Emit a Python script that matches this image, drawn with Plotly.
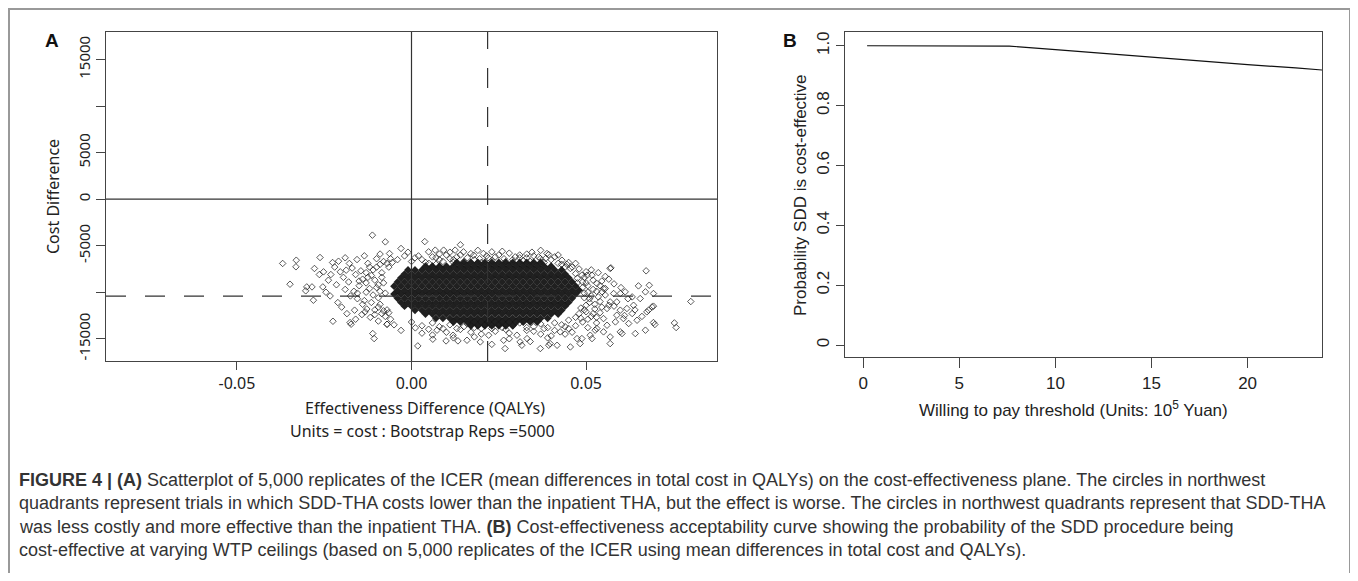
import plotly.graph_objects as go

PAGE_W, PAGE_H = 1358, 581
OFF = 8                      # default body margin of the html page
W, H = PAGE_W - 2 * OFF, PAGE_H - 2 * OFF

# ---------------- Panel A data: bootstrap replicates (effect diff in QALYs, cost diff) ----------------
# sparse replicates
left_pts = [
    (-0.0369, -6910), (-0.0330, -6560), (-0.0331, -7270), (-0.0348, -9140), (-0.0262, -6270), (-0.0112, -3870),
    (-0.0278, -7450), (-0.0252, -7810), (-0.0264, -8100), (-0.0226, -6810), (-0.0209, -6670), (-0.0178, -6910),
    (-0.0156, -6490), (-0.0135, -6090), (-0.0187, -7630), (-0.0204, -7810), (-0.0231, -8100), (-0.0238, -8710),
    (-0.0254, -9430), (-0.0300, -9430), (-0.0285, -9430), (-0.0303, -9850), (-0.0281, -10860), (-0.0233, -10400),
    (-0.0211, -11110), (-0.0225, -13120), (-0.0176, -13260), (-0.0173, -13440), (-0.0163, -11930), (-0.0142, -12400),
    (-0.0133, -12110), (-0.0111, -14440), (-0.0107, -14980), (-0.0075, -4590), (-0.0063, -5840),
    (-0.0195, -8400), (-0.0180, -8900), (-0.0170, -7400), (-0.0160, -8100), (-0.0150, -9300), (-0.0165, -9900),
    (-0.0190, -9700), (-0.0175, -10400), (-0.0155, -10700), (-0.0145, -7700), (-0.0140, -8600), (-0.0130, -10000),
    (-0.0140, -11300), (-0.0125, -6900), (-0.0120, -7300), (-0.0128, -11800), (-0.0118, -12700), (-0.0200, -11600),
    (-0.0185, -12300), (-0.0160, -12900), (-0.0215, -9200), (-0.0220, -7300), (-0.0245, -10000), (-0.0190, -6300),
    (-0.0100, -6400), (-0.0090, -5900), (-0.0080, -6700), (-0.0085, -12300), (-0.0060, -12900), (-0.0095, -13100),
    (-0.0050, -13500), (-0.0070, -13440), (-0.0105, -11900), (-0.0130, -9000), (-0.0115, -8200),
    (-0.0110, -7600), (-0.0100, -9500), (-0.0095, -10600), (-0.0105, -8700), (-0.0090, -11300), (-0.0085, -7900),
    (-0.0080, -9000), (-0.0075, -10100), (-0.0070, -11900), (-0.0065, -7300),
    (-0.0090, -7000), (-0.0085, -8400), (-0.0095, -9200), (-0.0090, -9900), (-0.0095, -11600), (-0.0080, -12000),
    (-0.0110, -10300), (-0.0120, -9600), (-0.0125, -8400), (-0.0130, -7900), (-0.0150, -8800), (-0.0155, -10100),
    (-0.0135, -10900), (-0.0115, -11100), (-0.0105, -12400), (-0.0075, -12600), (-0.0065, -12200), (-0.0100, -7300),
    (-0.0070, -6900), (-0.0060, -6400),
]
top_pts = [
    (0.0038, -4560), (0.0140, -4900), (0.0125, -5480), (0.0049, -5660), (0.0068, -5480), (0.0092, -5480),
    (0.0178, -6020), (0.0149, -5660), (0.0230, -5660), (0.0297, -6200), (0.0369, -6380), (0.0393, -5950),
    (0.0384, -6380), (0.0431, -6560), (0.0206, -5840), (0.0170, -5850), (0.0388, -5840), (0.0364, -6200),
    (0.0020, -6100), (0.0060, -6200), (0.0100, -6000), (0.0110, -6400), (0.0080, -6500), (0.0030, -6500),
    (-0.0020, -6100), (0.0130, -6200), (0.0160, -6300), (0.0195, -6400), (0.0215, -6100), (0.0250, -6000),
    (0.0265, -6400), (0.0280, -5800), (0.0310, -6000), (0.0330, -6300), (0.0345, -5700), (0.0410, -6200),
    (0.0420, -6900), (-0.0055, -6800), (0.0000, -6700), (0.0050, -6900), (-0.0030, -5300), (0.0220, -6300),
    (-0.0010, -5700), (0.0070, -7000), (0.0440, -7300), (0.0120, -6800), (0.0320, -6600),
    (-0.0040, -6500), (0.0010, -6300), (0.0040, -6800), (0.0070, -6300), (0.0090, -6700), (0.0120, -6500),
    (0.0140, -6000), (0.0150, -6700), (0.0180, -6500), (0.0200, -6800), (0.0230, -6600), (0.0240, -6200),
    (0.0270, -6700), (0.0290, -6500), (0.0310, -6300), (0.0340, -6700), (0.0350, -6100), (0.0380, -6800),
    (0.0400, -6500), (0.0420, -6000), (0.0430, -7000), (0.0450, -6800), (0.0460, -7300), (0.0260, -5600),
    (0.0190, -5500), (0.0330, -5900), (0.0110, -5700), (0.0080, -5900), (0.0370, -5500),
]
right_pts = [
    (0.0455, -7450), (0.0488, -8170), (0.0503, -8170), (0.0517, -8170), (0.0569, -7450), (0.0531, -9060),
    (0.0550, -9600), (0.0571, -7380), (0.0672, -7700), (0.0650, -9320), (0.0681, -9250), (0.0670, -9960),
    (0.0693, -10140), (0.0800, -11000), (0.0753, -13300), (0.0758, -13790), (0.0693, -13260), (0.0670, -14080),
    (0.0689, -11580), (0.0679, -11930), (0.0693, -11500), (0.0674, -12110), (0.0697, -13470), (0.0641, -14440),
    (0.0622, -13360), (0.0598, -14260), (0.0603, -14440), (0.0569, -14800), (0.0569, -15520), (0.0646, -13010),
    (0.0632, -12290), (0.0617, -11750), (0.0598, -11930), (0.0588, -12470), (0.0607, -12830), (0.0584, -13190),
    (0.0560, -13550), (0.0550, -12830), (0.0560, -11750), (0.0546, -9960), (0.0555, -9600), (0.0579, -10140),
    (0.0598, -10140), (0.0612, -9960), (0.0636, -11400), (0.0655, -10680), (0.0632, -10500), (0.0588, -11040),
    (0.0569, -11040), (0.0520, -8700), (0.0535, -10500), (0.0525, -11300), (0.0540, -12200), (0.0515, -12600),
    (0.0530, -13300), (0.0505, -13800), (0.0490, -13200), (0.0520, -9700), (0.0500, -9000), (0.0545, -8800),
    (0.0565, -8600), (0.0580, -9100), (0.0600, -9500), (0.0620, -10700), (0.0640, -11900), (0.0660, -12600),
    (0.0580, -11500), (0.0610, -12500), (0.0480, -7500), (0.0500, -7800), (0.0470, -6900), (0.0445, -7000),
    (0.0475, -9000), (0.0490, -9500), (0.0505, -10000), (0.0495, -10600), (0.0510, -11100), (0.0485, -11700),
    (0.0500, -12100), (0.0470, -12700), (0.0480, -12300), (0.0515, -10400), (0.0530, -9900), (0.0540, -11000),
    (0.0525, -11800), (0.0505, -12900), (0.0495, -8400), (0.0470, -8000),
    (0.0475, -8500), (0.0490, -8900), (0.0505, -9300), (0.0495, -10100), (0.0510, -10700), (0.0500, -11400),
    (0.0495, -11900), (0.0520, -12300), (0.0485, -12800), (0.0530, -12700), (0.0545, -11600), (0.0555, -10300),
    (0.0565, -11400), (0.0540, -9300), (0.0555, -8300), (0.0515, -7600), (0.0535, -7900),
]
bottom_pts = [
    (-0.0070, -13440), (0.0018, -15770), (0.0061, -15050), (0.0099, -15230), (0.0073, -14080), (0.0119, -14620),
    (0.0049, -13980), (0.0011, -13830), (0.0133, -15230), (0.0159, -15160), (0.0197, -15340), (0.0221, -14620),
    (0.0264, -15160), (0.0311, -15340), (0.0331, -14980), (0.0369, -16050), (0.0397, -15520), (0.0417, -15700),
    (0.0455, -15880), (0.0474, -14980), (0.0483, -15520), (0.0512, -14620), (0.0531, -13900), (0.0550, -14260),
    (0.0426, -14260), (0.0302, -14620), (0.0526, -14080), (0.0488, -14980), (0.0517, -14980), (0.0393, -15700),
    (0.0316, -15700), (0.0268, -16050), (0.0060, -14600), (0.0090, -13900), (0.0140, -14000), (0.0170, -14300),
    (0.0200, -13900), (0.0240, -14200), (0.0260, -13800), (0.0280, -14400), (0.0350, -14200), (0.0380, -13900),
    (0.0400, -14700), (0.0440, -13700), (0.0460, -14300), (0.0180, -14800), (0.0100, -14300), (0.0030, -14400),
    (-0.0030, -14100), (0.0150, -13700), (0.0330, -13800), (0.0410, -13300), (0.0450, -13000), (0.0370, -14500),
    (0.0230, -15600),
    (0.0000, -13200), (0.0030, -13600), (0.0060, -13300), (0.0080, -13700), (0.0110, -13500), (0.0130, -13900),
    (0.0160, -13400), (0.0180, -13800), (0.0210, -13500), (0.0230, -13900), (0.0250, -13400), (0.0270, -14000),
    (0.0290, -13600), (0.0310, -13300), (0.0330, -14100), (0.0350, -13700), (0.0370, -13400), (0.0390, -13800),
    (0.0410, -14100), (0.0430, -13500), (0.0450, -13900), (0.0470, -13600), (0.0440, -14500), (0.0390, -14900),
    (0.0280, -15000), (0.0200, -14500), (0.0120, -14900), (0.0340, -15300),
]

# dense core of the cloud: cost level of each band and effect values (milli-QALY) estimated along it
core_cost_rows = [-6800, -7200, -7600, -8050, -8450, -8900, -9350, -9800, -10200,
                  -10650, -11100, -11500, -11950, -12350, -12800, -13200, -13600]
core_eff_rows_milli = [
    [13, 15, 17, 19, 21, 23, 25, 27, 29, 31, 33, 35, 37],
    [4, 6, 8, 10, 12, 14, 16, 18, 20, 22, 24, 26, 28, 30, 32, 34, 36, 38, 40],
    [-1, 1, 3, 5, 7, 9, 11, 13, 15, 17, 19, 21, 23, 25, 27, 29, 31, 33, 35, 37, 39, 41, 43],
    [-2, 0, 2, 4, 6, 8, 10, 12, 14, 16, 18, 20, 22, 24, 26, 28, 30, 32, 34, 36, 38, 40, 42, 44],
    [-3, -1, 1, 3, 5, 7, 9, 11, 13, 15, 17, 19, 21, 23, 25, 27, 29, 31, 33, 35, 37, 39, 41, 43, 45],
    [-4, -2, 0, 2, 4, 6, 8, 10, 12, 14, 16, 18, 20, 22, 24, 26, 28, 30, 32, 34, 36, 38, 40, 42, 44, 46],
    [-5, -3, -1, 1, 3, 5, 7, 9, 11, 13, 15, 17, 19, 21, 23, 25, 27, 29, 31, 33, 35, 37, 39, 41, 43, 45, 47],
    [-4, -2, 0, 2, 4, 6, 8, 10, 12, 14, 16, 18, 20, 22, 24, 26, 28, 30, 32, 34, 36, 38, 40, 42, 44, 46, 48],
    [-5, -3, -1, 1, 3, 5, 7, 9, 11, 13, 15, 17, 19, 21, 23, 25, 27, 29, 31, 33, 35, 37, 39, 41, 43, 45, 47],
    [-4, -2, 0, 2, 4, 6, 8, 10, 12, 14, 16, 18, 20, 22, 24, 26, 28, 30, 32, 34, 36, 38, 40, 42, 44, 46],
    [-3, -1, 1, 3, 5, 7, 9, 11, 13, 15, 17, 19, 21, 23, 25, 27, 29, 31, 33, 35, 37, 39, 41, 43, 45],
    [-2, 0, 2, 4, 6, 8, 10, 12, 14, 16, 18, 20, 22, 24, 26, 28, 30, 32, 34, 36, 38, 40, 42, 44],
    [1, 3, 5, 7, 9, 11, 13, 15, 17, 19, 21, 23, 25, 27, 29, 31, 33, 35, 37, 39, 41, 43],
    [4, 6, 8, 10, 12, 14, 16, 18, 20, 22, 24, 26, 28, 30, 32, 34, 36, 38, 40, 42],
    [7, 9, 11, 13, 15, 17, 19, 21, 23, 25, 27, 29, 31, 33, 35, 37, 39],
    [12, 14, 16, 18, 20, 22, 24, 26, 28, 30, 32, 34, 36],
    [17, 19, 21, 23, 25, 27, 29],
]

mean_eff = 0.0218      # vertical dashed line
mean_cost = -10430     # horizontal dashed line

a_xticks = [-0.05, 0.0, 0.05]
a_xticklabels = ["-0.05", "0.00", "0.05"]
a_yticks = [-15000, -5000, 0, 5000, 15000]          # labelled ticks
a_yticklabels = ["-15000", "-5000", "0", "5000", "15000"]

# ---------------- Panel B data: acceptability curve ----------------
wtp = [0.2, 2.5, 5.0, 7.6, 10.0, 12.5, 15.0, 17.5, 20.0, 22.5, 23.87]
prob_ce = [1.0, 1.0, 1.0, 0.999, 0.987, 0.974, 0.961, 0.949, 0.937, 0.926, 0.919]
b_xticks = [0, 5, 10, 15, 20]
b_yticks = [0, 0.2, 0.4, 0.6, 0.8, 1.0]
b_yticklabels = ["0", "0.2", "0.4", "0.6", "0.8", "1.0"]

caption_lines = [
    "<b>FIGURE 4 | (A)</b> Scatterplot of 5,000 replicates of the ICER (mean differences in total cost in QALYs) on the cost-effectiveness plane. The circles in northwest",
    "quadrants represent trials in which SDD-THA costs lower than the inpatient THA, but the effect is worse. The circles in northwest quadrants represent that SDD-THA",
    "was less costly and more effective than the inpatient THA. <b>(B)</b> Cost-effectiveness acceptability curve showing the probability of the SDD procedure being",
    "cost-effective at varying WTP ceilings (based on 5,000 replicates of the ICER using mean differences in total cost and QALYs).",
]

# ---------------- build ----------------
def fx(p):          # page pixel -> paper fraction
    return (p - OFF) / W

def fy(p):
    return 1 - (p - OFF) / H

sparse = left_pts + top_pts + right_pts + bottom_pts
sp_eff = [p[0] for p in sparse]
sp_cost = [p[1] for p in sparse]
core_eff, core_cost = [], []
for c, row in zip(core_cost_rows, core_eff_rows_milli):
    for e in row:
        core_eff.append(e / 1000.0)
        core_cost.append(c)

INK = "#222222"
FONT_A = "Noto Sans, DejaVu Sans, sans-serif"
FONT_B = "Liberation Sans, Arial, sans-serif"

fig = go.Figure()
fig.add_trace(go.Scatter(
    x=core_eff, y=core_cost, mode="markers", xaxis="x", yaxis="y", showlegend=False,
    marker=dict(symbol="diamond", size=6, color="rgba(8,8,8,0.9)", line=dict(width=0)),
    hoverinfo="skip"))
fig.add_trace(go.Scatter(
    x=sp_eff, y=sp_cost, mode="markers", xaxis="x", yaxis="y", showlegend=False,
    marker=dict(symbol="diamond-open", size=5, color="rgba(25,25,25,0.72)", line=dict(width=1)),
    hoverinfo="skip"))
fig.add_trace(go.Scatter(
    x=wtp, y=prob_ce, mode="lines", xaxis="x2", yaxis="y2", showlegend=False,
    line=dict(color="#111111", width=1.2)))

axis_common = dict(showgrid=False, zeroline=False, showline=True, mirror=True,
                   linecolor="#444444", linewidth=1.2, ticks="outside", tickcolor="#444444",
                   tickwidth=1.2)

fig.update_layout(
    width=W, height=H, autosize=False,
    margin=dict(l=0, r=0, t=0, b=0),
    paper_bgcolor="white", plot_bgcolor="white",
    xaxis=dict(domain=[fx(106), fx(717)], range=[-0.0875, 0.0875],
               tickvals=a_xticks, ticktext=a_xticklabels, ticklen=8,
               tickfont=dict(family=FONT_A, size=16, color=INK), anchor="y", **axis_common),
    yaxis=dict(domain=[fy(361), fy(32)], range=[-17390, 17960],
               tickvals=a_yticks, ticktext=a_yticklabels, ticklen=9, tickangle=-90,
               minor=dict(dtick=5000, tick0=0, ticks="outside", ticklen=9,
                          tickcolor="#444444", tickwidth=1.2, showgrid=False),
               tickfont=dict(family=FONT_A, size=15, color=INK), anchor="x", **axis_common),
    xaxis2=dict(domain=[fx(845), fx(1322)], range=[-0.95, 23.87],
                tickvals=b_xticks, ticklen=10,
                tickfont=dict(family=FONT_B, size=17, color=INK), anchor="y2", **axis_common),
    yaxis2=dict(domain=[fy(357), fy(32)], range=[-0.04, 1.046],
                tickvals=b_yticks, ticktext=b_yticklabels, ticklen=8, tickangle=-90,
                tickfont=dict(family=FONT_B, size=17, color=INK), anchor="x2", **axis_common),
)

shapes = [
    # zero lines of the cost-effectiveness plane
    dict(type="line", xref="x", yref="y domain", x0=0, x1=0, y0=0, y1=1,
         line=dict(color="#333333", width=1.2), layer="above"),
    dict(type="line", xref="x domain", yref="y", x0=0, x1=1, y0=0, y1=0,
         line=dict(color="#333333", width=1.2), layer="above"),
    # mean lines
    dict(type="line", xref="x", yref="y domain", x0=mean_eff, x1=mean_eff, y0=0, y1=1,
         line=dict(color="#333333", width=1.2, dash="20px,19px"), layer="above"),
    dict(type="line", xref="x domain", yref="y", x0=0, x1=1, y0=mean_cost, y1=mean_cost,
         line=dict(color="#333333", width=1.2, dash="20px,19px"), layer="above"),
    # outer figure frame
    dict(type="rect", xref="paper", yref="paper", x0=fx(9), x1=fx(1350), y0=fy(575), y1=fy(9),
         line=dict(color="#999999", width=2), layer="below"),
]
fig.update_layout(shapes=shapes)

ann = []
ann.append(dict(text="<b>A</b>", x=fx(52), y=fy(41), font=dict(family=FONT_B, size=19, color="#111")))
ann.append(dict(text="Cost Difference", x=fx(53), y=fy(197), textangle=-90,
                font=dict(family=FONT_A, size=16, color=INK)))
ann.append(dict(text="Effectiveness Difference (QALYs)", x=fx(425), y=fy(408),
                font=dict(family=FONT_A, size=16, color=INK)))
ann.append(dict(text="Units = cost : Bootstrap Reps =5000", x=fx(422), y=fy(431),
                font=dict(family=FONT_A, size=16, color=INK)))
ann.append(dict(text="<b>B</b>", x=fx(790), y=fy(41), font=dict(family=FONT_B, size=19, color="#111")))
ann.append(dict(text="Probability SDD is cost-effective", x=fx(800), y=fy(195), textangle=-90,
                font=dict(family=FONT_B, size=17, color=INK)))
ann.append(dict(text="Willing to pay threshold (Units: 10<sup>5</sup> Yuan)", x=fx(1073), y=fy(409),
                font=dict(family=FONT_B, size=17, color=INK)))
cap_y = [480, 503, 527, 550]
for line, yy in zip(caption_lines, cap_y):
    ann.append(dict(text=line, x=fx(17), y=fy(yy), xanchor="left",
                    font=dict(family=FONT_B, size=18, color="#333333")))
for a in ann:
    a.setdefault("xref", "paper")
    a.setdefault("yref", "paper")
    a.setdefault("showarrow", False)
    a.setdefault("xanchor", "center")
    a.setdefault("yanchor", "middle")
fig.update_layout(annotations=ann)

fig.write_html("out.html")
